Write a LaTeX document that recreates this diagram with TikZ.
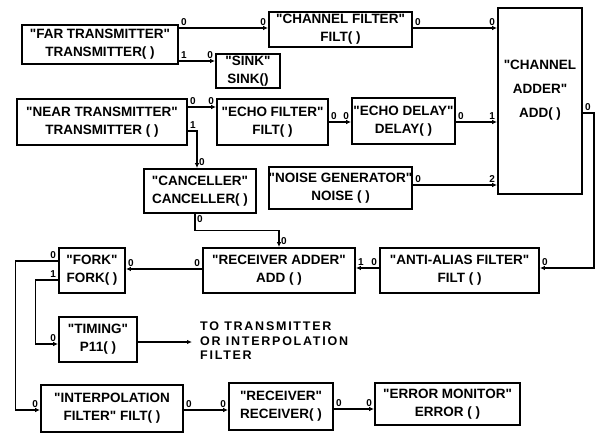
\documentclass[tikz,border=0pt]{standalone}
\usepackage{fontspec}
\setmainfont[Ligatures=TeXOff]{Liberation Sans}
\newfontfamily\destfont[Ligatures=TeXOff,LetterSpace=14]{Liberation Sans}
\usetikzlibrary{arrows.meta}
\tikzset{
  box/.style={draw, line width=1.8pt, inner sep=0pt, align=center,
    font=\bfseries\fontsize{13.5}{18}\selectfont},
  conn/.style={line width=1.2pt, -{Latex[length=5pt,width=4.5pt]}},
  lab/.style={font=\bfseries\fontsize{10}{10}\selectfont, inner sep=1.5pt},
}
\begin{document}
\begin{tikzpicture}[x=1pt,y=-1pt]
\useasboundingbox (0,0) rectangle (599,435);
% boxes
\node[box, minimum width=156pt, minimum height=39pt] (far) at (100,44.5) {"FAR TRANSMITTER"\\TRANSMITTER( )};
\node[box, minimum width=64pt, minimum height=34pt] (sink) at (248,71) {"SINK"\\SINK()};
\node[box, minimum width=143pt, minimum height=35pt] (chf) at (340.5,29.5) {"CHANNEL FILTER"\\FILT( )};
\node[box, minimum width=84pt, minimum height=186pt, font=\bfseries\fontsize{13.5}{24}\selectfont] (add) at (540,101) {"CHANNEL\\ADDER"\\ADD( )\\~};
\node[box, minimum width=170pt, minimum height=46pt] (near) at (102,122) {"NEAR TRANSMITTER"\\TRANSMITTER ( )};
\node[box, minimum width=111pt, minimum height=46pt] (echof) at (272.5,122) {"ECHO FILTER"\\FILT( )};
\node[box, minimum width=103pt, minimum height=46pt] (echod) at (403.5,121) {"ECHO DELAY"\\DELAY( )};
\node[box, minimum width=112pt, minimum height=44pt] (canc) at (200,191) {"CANCELLER"\\CANCELLER( )};
\node[box, minimum width=143pt, minimum height=42pt] (noise) at (340.5,188) {"NOISE GENERATOR"\\NOISE ( )};
\node[box, minimum width=66pt, minimum height=45pt] (fork) at (92,270.5) {"FORK"\\FORK( )};
\node[box, minimum width=152pt, minimum height=45pt] (radd) at (279,270.5) {"RECEIVER ADDER"\\ADD ( )};
\node[box, minimum width=159pt, minimum height=45pt] (aa) at (459.5,270.5) {"ANTI-ALIAS FILTER"\\FILT ( )};
\node[box, minimum width=78pt, minimum height=45pt] (timing) at (98,339.5) {"TIMING"\\P11( )};
\node[box, minimum width=142pt, minimum height=47pt] (interp) at (112,408.5) {"INTERPOLATION\\FILTER" FILT( )};
\node[box, minimum width=104pt, minimum height=47pt] (recv) at (281,406.5) {"RECEIVER"\\RECEIVER( )};
\node[box, minimum width=145pt, minimum height=42pt] (err) at (447.5,404) {"ERROR MONITOR"\\ERROR ( )};
% destination text
\coordinate (dest) at (192,342);
\node[anchor=west, align=left, inner sep=0pt, font=\bfseries\destfont\fontsize{12.5}{14.5}\selectfont] (desttext) at (200,341) {TO TRANSMITTER\\OR INTERPOLATION\\FILTER};
% connectors
\draw[conn] (far.east |- 0,28) node[lab, above right]{0} -- (chf.west |- 0,28) node[lab, above left]{0};
\draw[conn] (far.east |- 0,61) node[lab, above right]{1} -- (sink.west |- 0,61) node[lab, above left]{0};
\draw[conn] (chf.east |- 0,28) node[lab, above right]{0} -- (add.west |- 0,28) node[lab, above left]{0};
\draw[conn] (near.east |- 0,107) node[lab, above right]{0} -- (echof.west |- 0,107) node[lab, above left]{0};
\draw[conn] (near.east |- 0,131) node[lab, above right]{1} -| (canc.north -| 197,0) node[lab, above right]{0};
\draw[conn] (echof.east |- 0,122) node[lab, above right]{0} -- (echod.west |- 0,122) node[lab, above left]{0};
\draw[conn] (echod.east |- 0,122) node[lab, above right]{0} -- (add.west |- 0,122) node[lab, above left]{1};
\draw[conn] (noise.east |- 0,185) node[lab, above right]{0} -- (add.west |- 0,185) node[lab, above left]{2};
\draw[conn] (add.east |- 0,113) node[lab, above right]{0} -- (594,113) |- (aa.east |- 0,268) node[lab, above right]{0};
\draw[conn] (aa.west |- 0,268) node[lab, above left]{0} -- (radd.east |- 0,268) node[lab, above right]{1};
\draw[conn] (canc.south -| 195,0) node[lab, below right]{0} -- ++(0,17) -| (radd.north) node[lab, above right]{0};
\draw[conn] (radd.west |- 0,269) node[lab, above left]{0} -- (fork.east |- 0,269) node[lab, above right]{0};
\draw[conn] (fork.west |- 0,261) node[lab, above left]{0} -- ++(-43,0) |- (interp.west |- 0,410) node[lab, above left]{0};
\draw[conn] (fork.west |- 0,280) node[lab, above left]{1} -- ++(-23,0) |- (timing.west |- 0,344) node[lab, above left]{0};
\draw[conn] (timing.east |- 0,342) -- (dest);
\draw[conn] (interp.east |- 0,410) node[lab, above right]{0} -- (recv.west |- 0,410) node[lab, above left]{0};
\draw[conn] (recv.east |- 0,409) node[lab, above right]{0} -- (err.west |- 0,409) node[lab, above left]{0};
\end{tikzpicture}
\end{document}
